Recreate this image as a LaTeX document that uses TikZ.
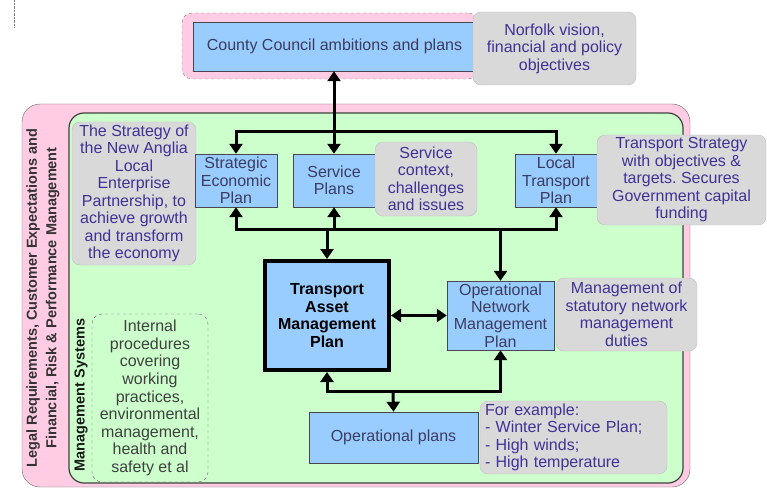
\documentclass[tikz,border=0pt]{standalone}
\usepackage{fontspec}
\setmainfont{Liberation Sans}
\usepackage{tikz}
\usetikzlibrary{shapes,arrows.meta,positioning,calc}
\usepackage{xcolor}
\frenchspacing

\definecolor{planblue}{RGB}{153,204,255}
\definecolor{planedge}{RGB}{70,70,85}
\definecolor{plantext}{RGB}{60,60,95}
\definecolor{notegrey}{RGB}{217,217,217}
\definecolor{noteedge}{RGB}{192,192,192}
\definecolor{notetext}{RGB}{62,50,150}
\definecolor{framepink}{RGB}{255,204,228}
\definecolor{framegreen}{RGB}{204,255,204}

\begin{document}
\begin{tikzpicture}[x=1pt, y=-1pt,
    >={Triangle[length=10pt,width=13pt]},
    plan/.style={draw=planedge, fill=planblue, text=plantext, align=center,
        inner sep=0pt, font=\fontsize{16}{17.4}\selectfont},
    note/.style={draw=noteedge, fill=notegrey, rounded corners=8pt, text=notetext,
        align=center, inner sep=0pt, font=\fontsize{16}{17.5}\selectfont},
    link/.style={line width=3pt},
    sidetext/.style={rotate=90, align=center, text=black!80,
        font=\fontsize{14.5}{19.5}\selectfont\bfseries}
]
    \useasboundingbox (0,0) rectangle (767,489);
    \draw[gray, densely dotted] (14,0) -- (14,27);

    % Cadres de fond
    \draw[draw=black!60, fill=framepink, rounded corners=18pt] (22,104) rectangle (690,487);
    \draw[draw=black!75, fill=framegreen, rounded corners=15pt, line width=1.2pt] (69,113) rectangle (683,483);

    % Niveau du conseil
    \node[draw=gray, dashed, fill=framepink, rounded corners=10pt, minimum width=296pt,
        minimum height=66pt] (countyframe) at (330,46) {};
    \node[plan, minimum width=283pt, minimum height=49pt] (county) at (334.5,46.5)
        {County Council ambitions and plans};
    \node[note, minimum width=163pt, minimum height=73pt] (norfolk) at (554.5,48.5)
        {Norfolk vision,\\financial and policy\\objectives};

    % Plans stratégiques
    \node[note, minimum width=124pt, minimum height=143pt] (anglia) at (134,193.5)
        {The Strategy of\\the New Anglia\\Local\\Enterprise\\Partnership, to\\achieve growth\\and transform\\the economy};
    \node[plan, minimum width=82pt, minimum height=53pt] (sep) at (236,180.5) {Strategic\\Economic\\Plan};
    \node[plan, minimum width=82pt, minimum height=53pt] (sp) at (334,180.5) {Service\\Plans};
    \node[note, minimum width=102pt, minimum height=74pt] (context) at (426,179)
        {Service\\context,\\challenges\\and issues};
    \node[plan, minimum width=82pt, minimum height=53pt] (ltp) at (556,180.5) {Local\\Transport\\Plan};
    \node[note, minimum width=169pt, minimum height=90pt] (strategy) at (681.5,180)
        {Transport Strategy\\with objectives \&\\targets. Secures\\Government capital\\funding};

    % Plans de gestion
    \node[plan, line width=4pt, draw=black, text=black, minimum width=124pt, minimum height=109pt,
        font=\fontsize{16}{17.4}\selectfont\bfseries] (tamp) at (327,315.5)
        {Transport\\Asset\\Management\\Plan};
    \node[plan, minimum width=107pt, minimum height=69pt] (onmp) at (500.5,315.5)
        {Operational\\Network\\Management\\Plan};
    \node[note, minimum width=141pt, minimum height=73pt] (duties) at (626.5,314.5)
        {Management of\\statutory network\\management\\duties};
    \node[plan, minimum width=169pt, minimum height=51pt] (opplans) at (393.5,437.5) {Operational plans};
    \node[note, align=left, text width=177pt, inner xsep=5pt, minimum height=73pt] (examples) at (573.5,437.5)
        {For example:\\- Winter Service Plan;\\- High winds;\\- High temperature};

    % Systèmes de gestion
    \node[draw=black!55, dashed, rounded corners=10pt, align=center, inner sep=0pt, text=black!75,
        minimum width=116pt, minimum height=168pt, font=\fontsize{16}{17.6}\selectfont] (internal) at (150,398)
        {Internal\\procedures\\covering\\working\\practices,\\environmental\\management,\\health and\\safety et al};
    \node[sidetext] (legal) at (43,298)
        {Legal Requirements, Customer Expectations and\\Financial, Risk \& Performance Management};
    \node[sidetext, text=black!90] (mgmtsys) at (81,395) {Management Systems};

    % Liaisons
    \coordinate (bustop) at (334,132);
    \coordinate (busmid) at (334,229);
    \coordinate (busbot) at (393,391);
    \draw[link, <->] (sp.north |- county.south) -- (sp.north);
    \draw[link, <->] (sep.north) |- (bustop) -| (ltp.north);
    \draw[link, <->] (sep.south) |- (busmid) -| (ltp.south);
    \draw[link, <-] (sp.south) -- (sp.south |- busmid);
    \draw[link, ->] (tamp.north |- busmid) -- (tamp.north);
    \draw[link, ->] (onmp.north |- busmid) -- (onmp.north);
    \draw[link, <->] (tamp.east) -- (onmp.west);
    \draw[link, <->] (tamp.south) |- (busbot) -| (onmp.south);
    \draw[link, ->] (busbot) -- (opplans.north);
\end{tikzpicture}
\end{document}
